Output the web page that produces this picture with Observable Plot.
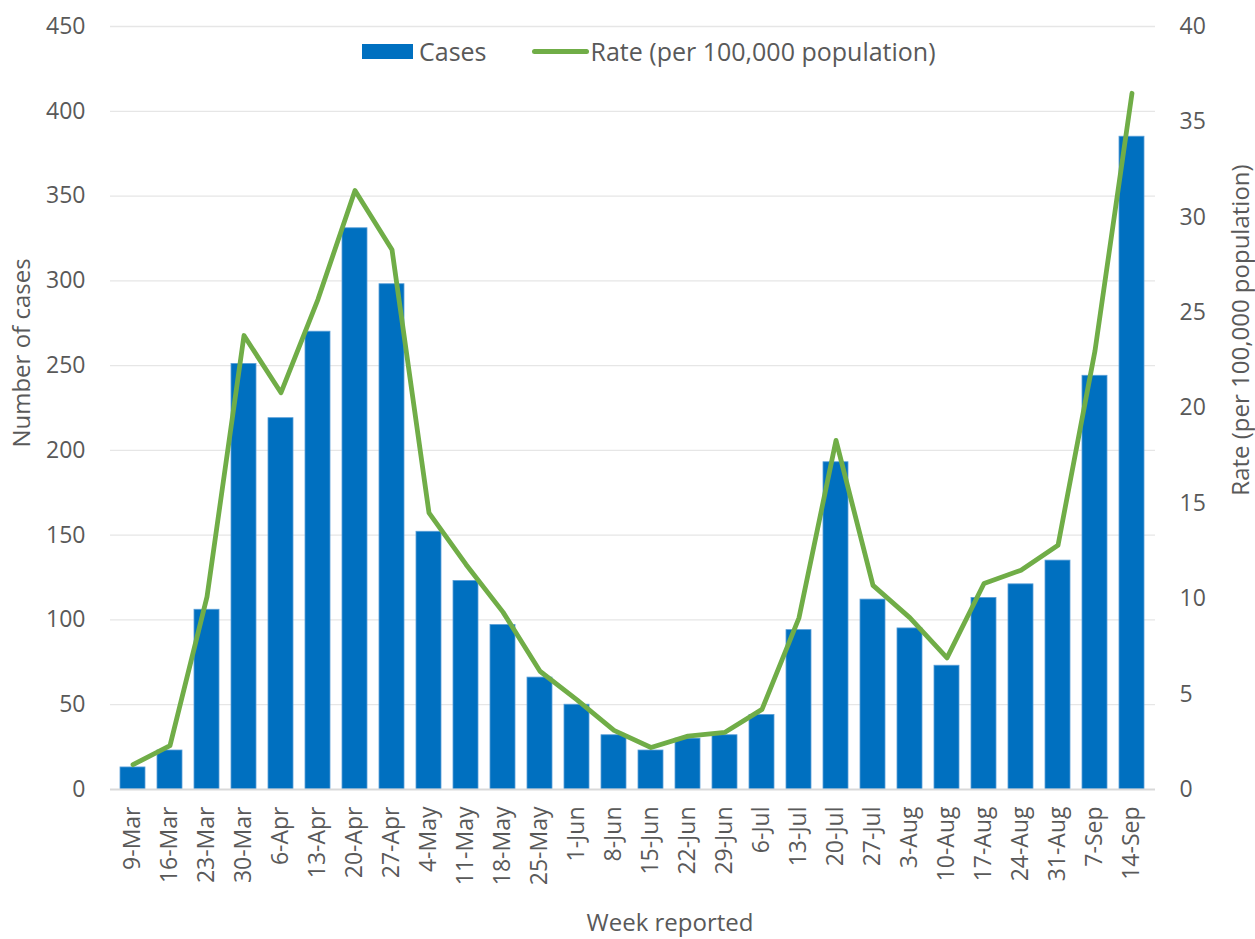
<!DOCTYPE html>
<html>
<head>
<meta charset="utf-8">
<script src="https://cdn.jsdelivr.net/npm/d3@7"></script>
<script src="https://cdn.jsdelivr.net/npm/@observablehq/plot@0.6"></script>
<style>
  html, body { margin: 0; padding: 0; background: #fff; }
  body { width: 1255px; height: 939px; position: relative; overflow: hidden;
         font-family: "Open Sans", "Noto Sans", sans-serif; color: #595959; }
  #chart { position: absolute; left: 0; top: 0; }
  .title { position: absolute; font-size: 24px; color: #595959; white-space: nowrap; line-height: 1; }
  .legend { position: absolute; top: 36px; left: 362px; height: 30px; font-size: 25px; color: #595959;
            display: flex; align-items: center; white-space: nowrap; line-height: 1; }
  .sw-bar { width: 51px; height: 15px; background: #0070C0; margin-right: 6px; }
  .sw-line { width: 57px; height: 5px; background: #70AD47; border-radius: 3px; margin-right: 2px; margin-left: 45px; }
</style>
</head>
<body>
<div id="chart"></div>
<div class="legend"><div class="sw-bar"></div><span>Cases</span><div class="sw-line"></div><span>Rate (per 100,000 population)</span></div>
<div class="title" style="left:21px; top:353px; transform: translate(-50%,-50%) rotate(-90deg);">Number of cases</div>
<div class="title" style="left:1240px; top:330px; transform: translate(-50%,-50%) rotate(-90deg);">Rate (per 100,000 population)</div>
<div class="title" style="left:670px; top:922px; font-size:24px; transform: translate(-50%,-50%);">Week reported</div>
<script>
const weeks = ["9-Mar","16-Mar","23-Mar","30-Mar","6-Apr","13-Apr","20-Apr","27-Apr","4-May","11-May","18-May","25-May","1-Jun","8-Jun","15-Jun","22-Jun","29-Jun","6-Jul","13-Jul","20-Jul","27-Jul","3-Aug","10-Aug","17-Aug","24-Aug","31-Aug","7-Sep","14-Sep"];
const cases = [13,23,106,251,219,270,331,298,152,123,97,66,50,32,23,30,32,44,94,193,112,95,73,113,121,135,244,385];
const rates = [1.3,2.3,10.1,23.8,20.8,25.7,31.4,28.3,14.5,11.8,9.3,6.2,4.7,3.1,2.2,2.8,3.0,4.2,9.0,18.3,10.7,9.0,6.9,10.8,11.5,12.8,23.0,36.5];
const caseTicks = [0,50,100,150,200,250,300,350,400,450];
const rateTicks = [0,5,10,15,20,25,30,35,40];
const caseMax = 450, rateMax = 40;
const k = caseMax / rateMax;

const data = weeks.map((w, i) => ({week: w, cases: cases[i], rate: rates[i]}));

const chart = Plot.plot({
  width: 1255,
  height: 939,
  marginLeft: 110,
  marginRight: 100,
  marginTop: 26,
  marginBottom: 150,
  style: {fontFamily: '"Open Sans", "Noto Sans", sans-serif', fontSize: "23px", color: "#595959", background: "#fff"},
  x: {domain: weeks, paddingInner: 0.32, paddingOuter: 0.16, label: null},
  y: {domain: [0, caseMax], label: null},
  marks: [
    Plot.gridY(caseTicks.filter(d => d > 0), {stroke: "#e6e6e6", strokeOpacity: 1, strokeWidth: 1.3}),
    Plot.barY(data, {x: "week", y: "cases", fill: "#0070C0", stroke: "#5a9fd8", strokeWidth: 0.8}),
    Plot.ruleY([0], {stroke: "#d9d9d9", strokeWidth: 2}),
    Plot.line(data, {x: "week", y: d => d.rate * k, stroke: "#70AD47", strokeWidth: 4.8, strokeLinejoin: "round", strokeLinecap: "round"}),
    Plot.axisY(caseTicks, {anchor: "left", tickSize: 0, tickPadding: 25, fontSize: 23, label: null, fill: "#595959"}),
    Plot.axisY(rateTicks.map(d => d * k), {anchor: "right", tickSize: 0, tickPadding: 24, fontSize: 23, label: null, fill: "#595959",
      tickFormat: d => String(Math.round(d / k))}),
    Plot.axisX({tickRotate: -90, tickSize: 0, tickPadding: 17, fontSize: 23, label: null, fill: "#595959"})
  ]
});
document.getElementById("chart").appendChild(chart);
</script>
</body>
</html>
